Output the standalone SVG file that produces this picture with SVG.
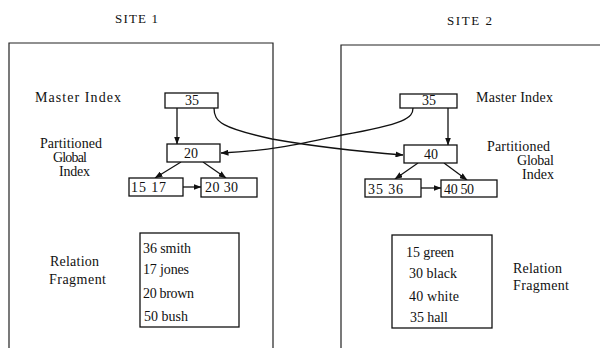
<svg xmlns="http://www.w3.org/2000/svg" width="600" height="348" viewBox="0 0 600 348">
<style>
text{font-family:"Liberation Serif","Times New Roman",serif;font-size:14px;fill:#111}
.site{fill:none;stroke:#222;stroke-width:1.2}
.box{fill:#fff;stroke:#111;stroke-width:1.3}
.c{fill:none;stroke:#111;stroke-width:1.3}
</style>
<defs>
<marker id="ah" markerWidth="8" markerHeight="6" refX="7.5" refY="3" orient="auto" markerUnits="userSpaceOnUse">
<path d="M0,0 L8,3 L0,6 Z" fill="#111"/>
</marker>
</defs>
<g id="site1">
<path class="site" d="M9,348 V43 H273 V348"/>
<text x="115" y="23" textLength="43" lengthAdjust="spacing" style="font-size:13px">SITE  1</text>
</g>
<g id="site2">
<path class="site" d="M341,348 V45 H600"/>
<text x="447" y="25" textLength="45" lengthAdjust="spacing" style="font-size:13px">SITE  2</text>
</g>
<g id="labels1">
<text x="35" y="102" textLength="86" lengthAdjust="spacing">Master Index</text>
<text x="40" y="148" textLength="62" lengthAdjust="spacing">Partitioned</text>
<text x="53" y="162" textLength="34" lengthAdjust="spacing">Global</text>
<text x="59" y="176" textLength="31" lengthAdjust="spacing">Index</text>
<text x="50" y="266" textLength="49" lengthAdjust="spacing">Relation</text>
<text x="49" y="284" textLength="57" lengthAdjust="spacing">Fragment</text>
</g>
<g id="labels2">
<text x="476" y="102" textLength="77" lengthAdjust="spacing">Master Index</text>
<text x="487" y="151" textLength="63" lengthAdjust="spacing">Partitioned</text>
<text x="517" y="165" textLength="37" lengthAdjust="spacing">Global</text>
<text x="522" y="179" textLength="32" lengthAdjust="spacing">Index</text>
<text x="513" y="273" textLength="49" lengthAdjust="spacing">Relation</text>
<text x="513" y="290" textLength="56" lengthAdjust="spacing">Fragment</text>
</g>
<g id="connectors">
<line class="c" x1="177" y1="108" x2="177" y2="144" marker-end="url(#ah)"/>
<line class="c" x1="181" y1="162" x2="155" y2="178" marker-end="url(#ah)"/>
<line class="c" x1="203" y1="162" x2="226" y2="178" marker-end="url(#ah)"/>
<line class="c" x1="183" y1="187" x2="201" y2="187" marker-end="url(#ah)"/>
<line class="c" x1="448" y1="108" x2="448" y2="145" marker-end="url(#ah)"/>
<line class="c" x1="418" y1="163" x2="395" y2="179" marker-end="url(#ah)"/>
<line class="c" x1="444" y1="163" x2="467" y2="180" marker-end="url(#ah)"/>
<line class="c" x1="421" y1="188" x2="441" y2="188" marker-end="url(#ah)"/>
<path class="c" d="M214,108 C214,122 222,128 272,139 C300,144 340,150 403,155" marker-end="url(#ah)"/>
<path class="c" d="M413,108 C413,118 405,124 342,135 C300,144 270,151 221,153" marker-end="url(#ah)"/>
</g>
<g id="master1">
<rect class="box" x="165" y="93" width="53" height="15"/>
<text x="185" y="105">35</text>
</g>
<g id="master2">
<rect class="box" x="400" y="94" width="57" height="14"/>
<text x="422" y="105">35</text>
</g>
<g id="pgi20">
<rect class="box" x="167" y="144" width="53" height="18"/>
<text x="184" y="158">20</text>
</g>
<g id="leaf1517">
<rect class="box" x="129" y="178" width="54" height="18"/>
<text x="131" y="192" textLength="35" lengthAdjust="spacing">15 17</text>
</g>
<g id="leaf2030">
<rect class="box" x="201" y="178" width="56" height="19"/>
<text x="205" y="192" textLength="33" lengthAdjust="spacing">20 30</text>
</g>
<g id="pgi40">
<rect class="box" x="404" y="145" width="53" height="18"/>
<text x="424" y="159">40</text>
</g>
<g id="leaf3536">
<rect class="box" x="365" y="179" width="56" height="18"/>
<text x="368" y="194" textLength="35" lengthAdjust="spacing">35 36</text>
</g>
<g id="leaf4050">
<rect class="box" x="441" y="180" width="56" height="17"/>
<text x="444" y="194" textLength="30" lengthAdjust="spacing">40 50</text>
</g>
<g id="frag1">
<rect class="box" x="140" y="233" width="99" height="94"/>
<text x="143" y="253" textLength="48" lengthAdjust="spacing">36 smith</text>
<text x="143" y="274" textLength="46" lengthAdjust="spacing">17 jones</text>
<text x="143" y="298" textLength="51" lengthAdjust="spacing">20 brown</text>
<text x="144" y="321" textLength="44" lengthAdjust="spacing">50 bush</text>
</g>
<g id="frag2">
<rect class="box" x="392" y="235" width="100" height="93"/>
<text x="406" y="257" textLength="48" lengthAdjust="spacing">15 green</text>
<text x="409" y="278" textLength="48" lengthAdjust="spacing">30 black</text>
<text x="409" y="301" textLength="50" lengthAdjust="spacing">40 white</text>
<text x="410" y="322" textLength="38" lengthAdjust="spacing">35 hall</text>
</g>
</svg>
